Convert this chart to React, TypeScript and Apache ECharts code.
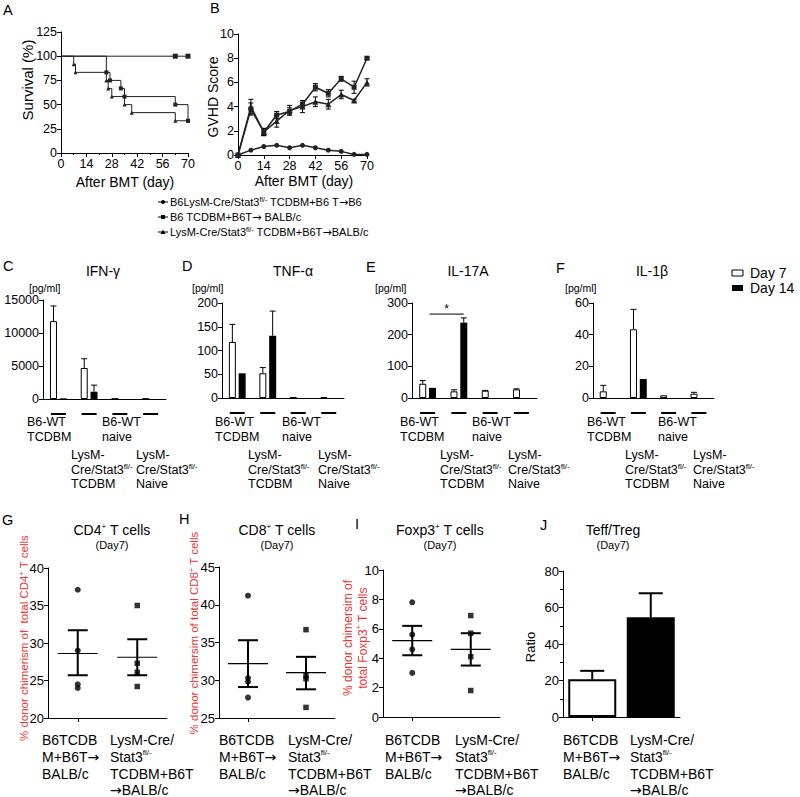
import React, { useEffect, useRef } from "react";
import * as echarts from "echarts";

const FONT = '"Liberation Sans", Arial, Helvetica, sans-serif';
const ARROW_FONT = '"DejaVu Sans", sans-serif';

// ---------- Panel A: survival (Kaplan-Meier) ----------
const survSyngeneic = [[0, 100], [63, 100], [70, 100]];
const survWT = [[0, 100], [25, 83.3], [27, 75], [33, 66.7], [35, 58.3], [63, 50], [70, 33.3]];
const survKO = [[0, 100], [7, 91.7], [8, 83.3], [25, 75], [26, 66.7], [28, 58.3], [35, 50], [39, 41.7], [63, 33.3], [70, 33.3]];

// ---------- Panel B: GVHD score ----------
const gvhdDays = [0, 7, 14, 21, 28, 35, 42, 49, 56, 63, 70];
const gvhdWT = [0, 3.8, 1.9, 3.3, 3.6, 4.2, 5.6, 5.1, 6.3, 5.6, 8.0];
const gvhdWTErr = [0, 0.5, 0.3, 0.3, 0.3, 0.3, 0.3, 0.3, 0.2, 0.5, 0.1];
const gvhdKO = [0, 4.0, 1.9, 2.8, 3.7, 4.0, 4.4, 4.2, 5.0, 4.5, 6.0];
const gvhdKOErr = [0, 0.6, 0.3, 0.5, 0.4, 0.5, 0.4, 0.4, 0.35, 0.1, 0.3];
const gvhdSyn = [0, 0.4, 0.7, 0.8, 0.6, 0.8, 0.6, 0.4, 0.3, 0.05, 0.05];

const legendEntries = [
  { text: "B6LysM-Cre/Stat3{sup|fl/-} TCDBM+B6 T{arr|→}B6", symbol: "circle" },
  { text: "B6 TCDBM+B6T{arr|→} BALB/c", symbol: "rect" },
  { text: "LysM-Cre/Stat3{sup|fl/-} TCDBM+B6T{arr|→}BALB/c", symbol: "triangle" },
];

// ---------- Panels C-F: cytokines ----------
const cytoGroups = ["B6-WT TCDBM", "LysM TCDBM", "B6-WT naive", "LysM naive"];
const cytoLabelLines = [
  ["B6-WT", "TCDBM"],
  ["LysM-", "Cre/Stat3{sup|fl/-}", "TCDBM"],
  ["B6-WT", "naive"],
  ["LysM-", "Cre/Stat3{sup|fl/-}", "Naive"],
];
const ifnD7 = [11800, 4700, 40, 30];
const ifnD7Err = [2300, 1400, 0, 0];
const ifnD14 = [100, 1100, 0, 0];
const ifnD14Err = [0, 1000, 0, 0];
const tnfD7 = [118, 52, 1.5, 2];
const tnfD7Err = [37, 12, 0, 0];
const tnfD14 = [52, 131, 0, 0];
const tnfD14Err = [0, 52, 0, 0];
const il17D7 = [45, 21, 23, 27];
const il17D7Err = [10, 5, 1, 2];
const il17D14 = [32, 238, 0, 0];
const il17D14Err = [0, 15, 0, 0];
const il17Sig = [[0, 265, 1]]; // [from group, level, to group]
const il1bD7 = [4.2, 43.4, 1.7, 2.7];
const il1bD7Err = [3.8, 12.6, 0, 0.9];
const il1bD14 = [0, 12, 0, 0];
const il1bD14Err = [0, 0, 0, 0];

// ---------- Panels G-J ----------
const bottomGroups = ["B6TCDBM+B6T→BALB/c", "LysM-Cre/Stat3fl/- TCDBM+B6T→BALB/c"];
const bottomLabelText = [
  "B6TCDB\nM+B6T{arr|→}\nBALB/c",
  "LysM-Cre/\nStat3{sup|fl/-}\nTCDBM+B6T\n{arr|→}BALB/c",
];
const cd4Group1 = [37.1, 29.0, 24.0, 24.5];
const cd4Group2 = [35.0, 27.3, 26.1, 24.2];
const cd4Mean = [28.6, 28.1];
const cd4SemLo = [25.7, 25.7];
const cd4SemHi = [31.7, 30.5];
const cd8Group1 = [41.2, 30.3, 29.8, 27.7];
const cd8Group2 = [36.7, 30.6, 30.2, 26.4];
const cd8Mean = [32.2, 31.0];
const cd8SemLo = [29.1, 28.8];
const cd8SemHi = [35.3, 33.1];
const foxGroup1 = [7.8, 5.6, 4.6, 3.0];
const foxGroup2 = [6.9, 5.7, 4.1, 1.8];
const foxMean = [5.2, 4.6];
const foxSemLo = [4.2, 3.5];
const foxSemHi = [6.2, 5.7];
const ratioMean = [20.7, 54.6];
const ratioErr = [4.6, 13.2];

// ---------- layout ----------
const BW = 7;
const GAP = 0.4;
const OFF = (BW * (1 + GAP)) / 2;
const RED = "#e83a36";

const grids = [
  { left: 61, top: 32, width: 127, height: 121 }, // A
  { left: 238, top: 34, width: 129, height: 121 }, // B
  { left: 43, top: 300, width: 123, height: 99 }, // C
  { left: 222, top: 303, width: 122, height: 95 }, // D
  { left: 412, top: 303, width: 125, height: 95 }, // E
  { left: 593, top: 303, width: 121, height: 95 }, // F
  { left: 48, top: 568, width: 119, height: 150 }, // G
  { left: 219, top: 567, width: 116, height: 151 }, // H
  { left: 383, top: 570, width: 117, height: 147 }, // I
  { left: 563, top: 571, width: 117, height: 146 }, // J
];

const lineS = { lineStyle: { color: "#000", width: 1 } };

function txt(x: number, y: number, text: string, o: any = {}) {
  const size = o.size ?? 13;
  const color = o.color ?? "#000";
  return {
    type: "text",
    x,
    y,
    rotation: o.rot ?? 0,
    silent: true,
    z: 10,
    style: {
      text,
      fill: color,
      fontSize: size,
      fontFamily: FONT,
      align: o.align ?? "left",
      verticalAlign: o.va ?? "middle",
      lineHeight: o.lh ?? Math.round(size * 1.15),
      rich: {
        sup: {
          fontSize: Math.round(size * 0.6),
          fontFamily: FONT,
          fill: color,
          verticalAlign: "top",
          lineHeight: Math.round(size * 0.7),
        },
        arr: {
          fontSize: size,
          fontFamily: ARROW_FONT,
          fill: color,
          lineHeight: o.lh ?? Math.round(size * 1.15),
        },
      },
    },
  };
}

function valueAxis(gridIndex: number, min: number, max: number, interval: number, fontSize: number, extra: any = {}) {
  return {
    type: "value",
    gridIndex,
    min,
    max,
    interval,
    axisLine: { show: true, onZero: false, ...lineS },
    axisTick: { show: true, length: 4, ...lineS },
    splitLine: { show: false },
    axisLabel: { color: "#000", fontSize, fontFamily: FONT, margin: 4, formatter: (v: number) => String(v) },
    ...extra,
  };
}

function renderErrSym(params: any, api: any) {
  const x = api.value(0), v = api.value(1), e = api.value(2);
  const lo = api.coord([x, v - e]);
  const hi = api.coord([x, v + e]);
  const st = { stroke: "#000", lineWidth: 1 };
  return {
    type: "group",
    children: [
      { type: "line", shape: { x1: lo[0], y1: lo[1], x2: hi[0], y2: hi[1] }, style: st },
      { type: "line", shape: { x1: lo[0] - 2.5, y1: lo[1], x2: lo[0] + 2.5, y2: lo[1] }, style: st },
      { type: "line", shape: { x1: hi[0] - 2.5, y1: hi[1], x2: hi[0] + 2.5, y2: hi[1] }, style: st },
    ],
  };
}

function renderErrUp(params: any, api: any) {
  const x = api.value(0), v = api.value(1), e = api.value(2), w = api.value(3);
  const dx = w === 0 ? -OFF : OFF;
  const b = api.coord([x, v]);
  const t = api.coord([x, v + e]);
  const cx = b[0] + dx;
  const st = { stroke: "#000", lineWidth: 1 };
  return {
    type: "group",
    children: [
      { type: "line", shape: { x1: cx, y1: b[1], x2: cx, y2: t[1] }, style: st },
      { type: "line", shape: { x1: cx - 3, y1: t[1], x2: cx + 3, y2: t[1] }, style: st },
    ],
  };
}

function renderSig(params: any, api: any) {
  const a = api.coord([api.value(0), api.value(1)]);
  const b = api.coord([api.value(2), api.value(1)]);
  const x1 = a[0] + 2;
  const x2 = b[0] + OFF;
  return {
    type: "group",
    children: [
      { type: "line", shape: { x1, y1: a[1], x2, y2: a[1] }, style: { stroke: "#000", lineWidth: 1 } },
      {
        type: "text",
        x: (x1 + x2) / 2,
        y: a[1] + 1,
        style: { text: "*", fill: "#000", fontSize: 12, fontFamily: FONT, align: "center", verticalAlign: "bottom" },
      },
    ],
  };
}

function renderMeanSem(params: any, api: any) {
  const x = api.value(0);
  const m = api.coord([x, api.value(1)]);
  const lo = api.coord([x, api.value(2)]);
  const hi = api.coord([x, api.value(3)]);
  const cx = m[0];
  const ls = { stroke: "#000", lineWidth: 2 };
  return {
    type: "group",
    children: [
      { type: "line", shape: { x1: cx - 20, y1: m[1], x2: cx + 20, y2: m[1] }, style: { stroke: "#000", lineWidth: 1.2 } },
      { type: "line", shape: { x1: cx, y1: lo[1], x2: cx, y2: hi[1] }, style: ls },
      { type: "line", shape: { x1: cx - 10, y1: lo[1], x2: cx + 10, y2: lo[1] }, style: ls },
      { type: "line", shape: { x1: cx - 10, y1: hi[1], x2: cx + 10, y2: hi[1] }, style: ls },
    ],
  };
}

function renderBarErr(params: any, api: any) {
  const x = api.value(0), v = api.value(1), e = api.value(2);
  const b = api.coord([x, v]);
  const t = api.coord([x, v + e]);
  const ls = { stroke: "#000", lineWidth: 2 };
  return {
    type: "group",
    children: [
      { type: "line", shape: { x1: b[0], y1: b[1], x2: b[0], y2: t[1] }, style: ls },
      { type: "line", shape: { x1: b[0] - 12, y1: t[1], x2: b[0] + 12, y2: t[1] }, style: ls },
    ],
  };
}

function buildOption() {
  const cyto = [
    { d7: ifnD7, d7e: ifnD7Err, d14: ifnD14, d14e: ifnD14Err, max: 15000, interval: 5000, title: "IFN-γ", titleX: 103, unitX: 29, labelX: [27, 71, 102, 136] },
    { d7: tnfD7, d7e: tnfD7Err, d14: tnfD14, d14e: tnfD14Err, max: 200, interval: 50, title: "TNF-α", titleX: 293, unitX: 192, labelX: [215, 248, 282, 318] },
    { d7: il17D7, d7e: il17D7Err, d14: il17D14, d14e: il17D14Err, max: 300, interval: 100, title: "IL-17A", titleX: 468, unitX: 375, labelX: [400, 440, 472, 508] },
    { d7: il1bD7, d7e: il1bD7Err, d14: il1bD14, d14e: il1bD14Err, max: 60, interval: 20, title: "IL-1β", titleX: 652, unitX: 565, labelX: [587, 625, 658, 693] },
  ];

  const bottom = [
    { g1: cd4Group1, g2: cd4Group2, mean: cd4Mean, lo: cd4SemLo, hi: cd4SemHi, min: 20, max: 40, interval: 5 },
    { g1: cd8Group1, g2: cd8Group2, mean: cd8Mean, lo: cd8SemLo, hi: cd8SemHi, min: 25, max: 45, interval: 5 },
    { g1: foxGroup1, g2: foxGroup2, mean: foxMean, lo: foxSemLo, hi: foxSemHi, min: 0, max: 10, interval: 2 },
  ];

  const xAxis: any[] = [
    {
      ...valueAxis(0, 0, 70, 14, 12.5),
      minorTick: { show: true, splitNumber: 2, length: 2, ...lineS },
    },
    valueAxis(1, 0, 70, 14, 12.5),
    ...[2, 3, 4, 5].map((g) => ({
      type: "category",
      gridIndex: g,
      data: cytoGroups,
      axisLine: { show: true, onZero: false, ...lineS },
      axisTick: { show: false },
      axisLabel: {
        interval: 0,
        margin: 14,
        formatter: () => "{d| }",
        rich: { d: { width: 15, height: 2, backgroundColor: "#000", fontSize: 2, lineHeight: 2 } },
      },
    })),
    ...[6, 7, 8, 9].map((g) => ({
      type: "category",
      gridIndex: g,
      data: bottomGroups,
      axisLine: { show: true, onZero: false, ...lineS },
      axisTick: { show: true, alignWithLabel: true, length: 4, ...lineS },
      axisLabel: { show: false },
    })),
  ];

  const yAxis: any[] = [
    valueAxis(0, 0, 125, 25, 12.5),
    valueAxis(1, 0, 10, 2, 12.5),
    ...cyto.map((c, k) => valueAxis(2 + k, 0, c.max, c.interval, 12.5)),
    ...bottom.map((b, k) => valueAxis(6 + k, b.min, b.max, b.interval, 13)),
    { ...valueAxis(9, 0, 80, 20, 13), minorTick: { show: true, splitNumber: 2, length: 3, ...lineS } },
  ];

  const series: any[] = [];

  // A
  const km = (data: number[][], symbol: string, size: number) => ({
    type: "line",
    xAxisIndex: 0,
    yAxisIndex: 0,
    step: "end",
    data: data.map((d, i) => (i === 0 ? { value: d, symbol: "none" } : { value: d })),
    symbol,
    symbolSize: size,
    showSymbol: true,
    lineStyle: { color: "#222", width: 1 },
    itemStyle: { color: "#222" },
    z: 3,
  });
  series.push(km(survSyngeneic, "rect", 5));
  series.push(km(survWT, "rect", 4));
  series.push(km(survKO, "triangle", 4));

  // B
  const gv = (vals: number[], symbol: string, size: number) => ({
    type: "line",
    xAxisIndex: 1,
    yAxisIndex: 1,
    data: gvhdDays.map((d, i) => [d, vals[i]]),
    symbol,
    symbolSize: size,
    lineStyle: { color: "#222", width: 1.5 },
    itemStyle: { color: "#222" },
    z: 3,
  });
  series.push(gv(gvhdSyn, "circle", 5));
  series.push(gv(gvhdWT, "rect", 5));
  series.push(gv(gvhdKO, "triangle", 6));
  const gvErr = (vals: number[], errs: number[]) => ({
    type: "custom",
    coordinateSystem: "cartesian2d",
    xAxisIndex: 1,
    yAxisIndex: 1,
    renderItem: renderErrSym,
    itemStyle: { color: "#000" },
    data: gvhdDays.map((d, i) => [d, vals[i], errs[i]]).filter((r) => r[2] > 0),
    z: 2,
  });
  series.push(gvErr(gvhdWT, gvhdWTErr));
  series.push(gvErr(gvhdKO, gvhdKOErr));

  // C-F
  cyto.forEach((c, k) => {
    const g = 2 + k;
    series.push({
      type: "bar",
      xAxisIndex: g,
      yAxisIndex: g,
      data: c.d7,
      barWidth: BW,
      barGap: "40%",
      itemStyle: { color: "#fff", borderColor: "#000", borderWidth: 1 },
    });
    series.push({
      type: "bar",
      xAxisIndex: g,
      yAxisIndex: g,
      data: c.d14,
      barWidth: BW,
      barGap: "40%",
      itemStyle: { color: "#000" },
    });
    const errs: number[][] = [];
    c.d7.forEach((v, i) => { if (c.d7e[i] > 0) errs.push([i, v, c.d7e[i], 0]); });
    c.d14.forEach((v, i) => { if (c.d14e[i] > 0) errs.push([i, v, c.d14e[i], 1]); });
    series.push({
      type: "custom",
      coordinateSystem: "cartesian2d",
      xAxisIndex: g,
      yAxisIndex: g,
      renderItem: renderErrUp,
      itemStyle: { color: "#000" },
      data: errs,
      z: 3,
    });
  });
  series.push({
    type: "custom",
    coordinateSystem: "cartesian2d",
    xAxisIndex: 4,
    yAxisIndex: 4,
    renderItem: renderSig,
    itemStyle: { color: "#000" },
    data: il17Sig,
    z: 3,
  });

  // G-I
  bottom.forEach((b, k) => {
    const g = 6 + k;
    series.push({
      type: "scatter",
      xAxisIndex: g,
      yAxisIndex: g,
      data: [
        ...b.g1.map((v) => ({ value: [0, v], symbol: "circle", symbolSize: 6 })),
        ...b.g2.map((v) => ({ value: [1, v], symbol: "rect", symbolSize: 5.5 })),
      ],
      itemStyle: { color: "#000" },
      z: 4,
    });
    series.push({
      type: "custom",
      coordinateSystem: "cartesian2d",
      xAxisIndex: g,
      yAxisIndex: g,
      renderItem: renderMeanSem,
      itemStyle: { color: "#000" },
      data: b.mean.map((m, i) => [i, m, b.lo[i], b.hi[i]]),
      z: 3,
    });
  });

  // J
  series.push({
    type: "bar",
    xAxisIndex: 9,
    yAxisIndex: 9,
    barWidth: 48,
    data: ratioMean.map((v, i) => ({
      value: v,
      itemStyle: { color: i === 0 ? "#fff" : "#000", borderColor: "#000", borderWidth: 2 },
    })),
  });
  series.push({
    type: "custom",
    coordinateSystem: "cartesian2d",
    xAxisIndex: 9,
    yAxisIndex: 9,
    renderItem: renderBarErr,
    itemStyle: { color: "#000" },
    data: ratioMean.map((v, i) => [i, v, ratioErr[i]]),
    z: 3,
  });

  // ---------- graphic texts ----------
  const graphic: any[] = [];
  const letters: [string, number, number][] = [
    ["A", 3, 10], ["B", 210, 8], ["C", 3, 266], ["D", 182, 266], ["E", 366, 267],
    ["F", 556, 268], ["G", 2, 520], ["H", 179, 519], ["I", 355, 524], ["J", 540, 525],
  ];
  letters.forEach(([t, x, y]) => graphic.push(txt(x, y, t, { size: 14.5 })));

  // A/B titles
  graphic.push(txt(27, 80, "Survival (%)", { size: 15, rot: Math.PI / 2, align: "center" }));
  graphic.push(txt(125, 182, "After BMT (day)", { size: 14, align: "center" }));
  graphic.push(txt(213, 97, "GVHD Score", { size: 14, rot: Math.PI / 2, align: "center" }));
  graphic.push(txt(304, 181, "After BMT (day)", { size: 14, align: "center" }));

  // A/B legend
  const legY = [202, 217, 232];
  legendEntries.forEach((e, i) => {
    const y = legY[i];
    graphic.push({ type: "line", silent: true, shape: { x1: 158, y1: y, x2: 168, y2: y }, style: { stroke: "#000", lineWidth: 1 } });
    if (e.symbol === "circle") {
      graphic.push({ type: "circle", silent: true, shape: { cx: 163, cy: y, r: 2 }, style: { fill: "#000" } });
    } else if (e.symbol === "rect") {
      graphic.push({ type: "rect", silent: true, shape: { x: 161, y: y - 2, width: 4, height: 4 }, style: { fill: "#000" } });
    } else {
      graphic.push({ type: "polygon", silent: true, shape: { points: [[163, y - 2.5], [165.5, y + 2], [160.5, y + 2]] }, style: { fill: "#000" } });
    }
    graphic.push(txt(170, y, e.text, { size: 11 }));
  });

  // C-F texts
  cyto.forEach((c) => {
    graphic.push(txt(c.titleX, 271, c.title, { size: 14, align: "center" }));
    graphic.push(txt(c.unitX, 288, "[pg/ml]", { size: 10.5 }));
    cytoLabelLines.forEach((lines, i) => {
      const top = i % 2 === 0 ? 415 : 447.5;
      graphic.push(txt(c.labelX[i], top, lines.join("\n"), { size: 12.5, va: "top", lh: 14.7 }));
    });
  });
  // Day legend
  graphic.push({ type: "rect", silent: true, shape: { x: 732, y: 270, width: 11, height: 6 }, style: { fill: "#fff", stroke: "#000", lineWidth: 1 } });
  graphic.push({ type: "rect", silent: true, shape: { x: 732, y: 285, width: 11, height: 6 }, style: { fill: "#000" } });
  graphic.push(txt(750, 273, "Day 7", { size: 14 }));
  graphic.push(txt(750, 288, "Day 14", { size: 14 }));

  // G-J texts
  const bottomMeta = [
    { title: "CD4{sup|+} T cells", tx: 112, labelX: [42, 110] },
    { title: "CD8{sup|+} T cells", tx: 277, labelX: [219, 288] },
    { title: "Foxp3{sup|+} T cells", tx: 440, labelX: [385, 455] },
    { title: "Teff/Treg", tx: 613, labelX: [563, 630] },
  ];
  bottomMeta.forEach((b) => {
    graphic.push(txt(b.tx, 530, b.title, { size: 14, align: "center" }));
    graphic.push(txt(b.tx, 545, "(Day7)", { size: 11, align: "center" }));
    bottomLabelText.forEach((t, i) => {
      graphic.push(txt(b.labelX[i], 732, t, { size: 14, va: "top", lh: 16.7 }));
    });
  });
  graphic.push(txt(24, 638, "% donor chimerism of  total CD4{sup|+} T cells", { size: 11.5, color: RED, rot: Math.PI / 2, align: "center" }));
  graphic.push(txt(194, 633, "% donor chimersim of total CD8{sup|+} T cells", { size: 11.5, color: RED, rot: Math.PI / 2, align: "center" }));
  graphic.push(txt(355, 638, "% donor chimersim of\ntotal Foxp3{sup|+} T cells", { size: 12, color: RED, rot: Math.PI / 2, align: "center", lh: 15 }));
  graphic.push(txt(530, 647, "Ratio", { size: 13, rot: Math.PI / 2, align: "center" }));

  return {
    animation: false,
    backgroundColor: "#fff",
    textStyle: { fontFamily: FONT },
    grid: grids,
    xAxis,
    yAxis,
    series,
    graphic,
  };
}

export default function App() {
  const ref = useRef<HTMLDivElement>(null);
  useEffect(() => {
    if (!ref.current) return;
    const chart = echarts.init(ref.current, undefined, { renderer: "svg" });
    chart.setOption(buildOption());
    return () => chart.dispose();
  }, []);
  return (
    <div
      ref={ref}
      style={{ position: "absolute", left: 0, top: 0, width: 800, height: 797, background: "#fff" }}
    />
  );
}
